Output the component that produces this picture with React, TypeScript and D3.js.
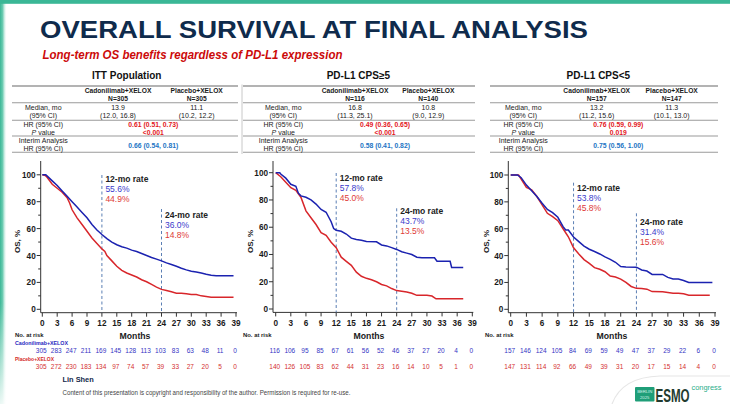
import React from 'react';
import * as d3 from 'd3';

const W = 730, H = 404;
const FONT = "'Liberation Sans', Arial, Helvetica, sans-serif";

// ---------- data ----------
const xTicks = [0, 3, 6, 9, 12, 15, 18, 21, 24, 27, 30, 33, 36, 39];
const yTicks = [0, 20, 40, 60, 80, 100];
const yMinorTicks = [10, 30, 50, 70, 90];

const panelTitles = ['ITT Population', 'PD-L1 CPS≥5', 'PD-L1 CPS<5'];
const armNames = ['Cadonilimab+XELOX', 'Placebo+XELOX'];
const cadN = ['N=305', 'N=116', 'N=157'];
const pboN = ['N=305', 'N=140', 'N=147'];
const cadMedian = ['13.9', '16.8', '13.2'];
const cadCI = ['(12.0, 16.8)', '(11.3, 25.1)', '(11.2, 15.6)'];
const pboMedian = ['11.1', '10.8', '11.3'];
const pboCI = ['(10.2, 12.2)', '(9.0, 12.9)', '(10.1, 13.0)'];
const hrFinal = ['0.61 (0.51, 0.73)', '0.49 (0.36, 0.65)', '0.76 (0.59, 0.99)'];
const pValues = ['<0.001', '<0.001', '0.019'];
const hrInterim = ['0.66 (0.54, 0.81)', '0.58 (0.41, 0.82)', '0.75 (0.56, 1.00)'];
const rate12Cad = ['55.6%', '57.8%', '53.8%'];
const rate12Pbo = ['44.9%', '45.0%', '45.8%'];
const rate24Cad = ['36.0%', '43.7%', '31.4%'];
const rate24Pbo = ['14.8%', '13.5%', '15.6%'];

const ittRiskCad = [305, 283, 247, 211, 169, 145, 128, 113, 103, 83, 63, 48, 11, 0];
const ittRiskPbo = [305, 272, 230, 183, 134, 97, 74, 57, 39, 33, 27, 20, 5, 0];
const hiRiskCad = [116, 106, 95, 85, 67, 61, 56, 52, 46, 37, 27, 20, 4, 0];
const hiRiskPbo = [140, 126, 105, 83, 62, 44, 31, 23, 16, 14, 10, 5, 1, 0];
const loRiskCad = [157, 146, 124, 105, 84, 69, 59, 49, 47, 37, 29, 22, 6, 0];
const loRiskPbo = [147, 131, 114, 92, 66, 49, 39, 31, 20, 17, 15, 14, 4, 0];

type Pt = [number, number];
const ittCad: Pt[] = [[0, 100], [0.7, 100], [1, 99], [2, 95.5], [3, 92], [4, 88], [5, 84], [6, 80], [7, 76], [8, 72], [9, 68], [10, 63], [11, 59], [12, 55.6], [13, 52.5], [14, 50], [15, 48], [16, 46.5], [17, 45.5], [18, 44], [19, 43], [20, 41.5], [21, 40], [22, 38.5], [23, 37.3], [24, 36], [25, 34.5], [26, 33.3], [27, 32], [28, 30.5], [29, 29.3], [30, 28.3], [31, 27.8], [32, 27], [33, 26], [34, 25.3], [35, 25], [38.5, 25]];
const ittPbo: Pt[] = [[0, 100], [0.6, 99.5], [1, 98], [2, 93], [3, 90], [4, 87], [5, 83], [5.5, 79], [6, 74], [7, 68], [8, 63], [9, 58], [10, 53], [11, 49], [12, 44.9], [12.6, 43], [13, 40], [14, 36], [15, 32], [16, 29], [17, 27], [18, 25.5], [19, 24], [20, 22], [21, 20.5], [22, 18.5], [23, 16.5], [24, 14.8], [25, 14], [26, 13], [27, 12], [28, 12], [29, 11.5], [30, 11], [31, 11], [32, 10], [33, 9.5], [34, 9], [38.5, 9]];
const hiCad: Pt[] = [[0, 100], [0.8, 100], [1, 99], [2, 96], [3, 91.5], [4, 90], [4.5, 85], [5, 83], [6, 82], [7, 80], [8, 77], [9, 73], [10, 71], [11, 64], [11.5, 59], [12, 57.8], [13, 57], [14, 55], [15, 52], [16, 51], [17, 50.5], [18, 49.5], [20, 49.3], [21, 47], [22, 46.3], [23, 45], [24, 43.7], [25, 42], [26, 41], [27, 40], [28, 38], [29, 37.6], [31.5, 37.6], [32, 35], [34.6, 35], [34.9, 30.5], [37.2, 30.5]];
const hiPbo: Pt[] = [[0, 100], [1, 97], [2, 93], [3, 89], [4, 87], [5, 82], [6, 72], [7, 67], [8, 62], [9, 56], [10, 54], [11, 49], [12, 45], [13, 38], [14, 35], [15, 32], [16, 27], [17, 24], [18, 22.5], [19, 21.5], [20, 20], [21, 18], [22, 17], [23, 15], [24, 13.5], [25, 13], [26, 12.5], [27, 11.5], [28, 10], [30, 10], [31, 9.5], [31.8, 7.5], [37.2, 7.5]];
const loCad: Pt[] = [[0, 100], [1.3, 100], [2, 98], [3, 92.5], [4, 88.3], [5, 84], [6, 79], [7, 74.4], [8, 72], [9, 68.5], [10, 61.5], [10.5, 59], [11, 59], [12, 53.8], [13, 50.4], [14, 47], [15, 44.7], [16, 43], [17, 41.2], [18, 39], [19, 37.2], [20, 35], [21, 31.8], [22, 31.5], [24, 31.4], [25, 29.3], [26, 28.5], [27, 26], [29, 26], [30, 23.8], [31, 22.5], [32, 22.5], [33, 21.5], [34, 20], [38.5, 20]];
const loPbo: Pt[] = [[0, 100], [1.5, 100], [2, 97], [3, 90.8], [4, 89], [5, 84], [6, 77.7], [7, 71.5], [8, 69], [9, 66], [10, 60], [11, 54], [12, 45.8], [13, 41.2], [14, 37], [15, 34.2], [16, 31], [17, 29.8], [18, 28], [19, 24.8], [20, 24], [21, 22.5], [22, 20], [23, 17], [24, 15.6], [25, 15.5], [26, 15], [27, 13.2], [29, 13], [30, 12.5], [31, 12], [32, 12], [33, 11.5], [34, 10.5], [38, 10.5]];

const curvesCad = [ittCad, hiCad, loCad];
const curvesPbo = [ittPbo, hiPbo, loPbo];
const riskCad = [ittRiskCad, hiRiskCad, loRiskCad];
const riskPbo = [ittRiskPbo, hiRiskPbo, loRiskPbo];

// ---------- layout ----------
const geo = [
  { x0: 42.3, x1: 236, y100: 174.8, y0: 309.3, axisX: 40.7, axisY: 312.7, tblL: 12, tblR: 238, ttl: 126.7, lbl: 43.3, c1: 118, c2: 196.7, hr: 153.3, l12: 175, t12: 179.3, l24: 209, t24: 215, osX: 16.7, riskX: 15, monthsX: 135 },
  { x0: 275.7, x1: 472.3, y100: 172.7, y0: 309, axisX: 273, axisY: 312.4, tblL: 243, tblR: 475, ttl: 358.3, lbl: 283.3, c1: 355, c2: 428.3, hr: 385, l12: 173, t12: 178.3, l24: 208.3, t24: 211, osX: 250, riskX: 243, monthsX: 369 },
  { x0: 510.7, x1: 715, y100: 175, y0: 309.3, axisX: 508.3, axisY: 312.7, tblL: 490, tblR: 718, ttl: 598.3, lbl: 523.3, c1: 596.7, c2: 671.7, hr: 618.3, l12: 182.7, t12: 188.3, l24: 213.3, t24: 221.7, osX: 486, riskX: 485, monthsX: 612 },
];

const BLUE = '#1b22b0';
const RED = '#d8262b';
const TBL_RED = '#e3161b';
const TBL_BLUE = '#2274c4';
const DARK = '#1a1a1a';
const LINE = '#9a9a9a';

function Panel({ i }: { i: number }) {
  const g = geo[i];
  const x = d3.scaleLinear().domain([0, 39]).range([g.x0, g.x1]);
  const y = d3.scaleLinear().domain([0, 100]).range([g.y0, g.y100]);
  const line = d3.line<Pt>().x(d => x(d[0])).y(d => y(d[1])).curve(d3.curveLinear);
  const tf = 7;
  const rows = [86, 102.7, 120.3, 136, 152.3];
  return (
    <g fontFamily={FONT}>
      <text x={g.ttl} y={79.3} textAnchor="middle" fontSize={10} fontWeight="bold" fill="#111">{panelTitles[i]}</text>
      {rows.map((r, k) => (
        <line key={k} x1={g.tblL} x2={g.tblR} y1={r} y2={r} stroke={LINE} strokeWidth={k === 0 ? 1.6 : 1.1} />
      ))}
      <g fontSize={tf} fill={DARK} textAnchor="middle">
        <text x={g.c1} y={93} fontWeight="bold" fontSize={6.7}>{armNames[0]}</text>
        <text x={g.c2} y={93} fontWeight="bold" fontSize={6.7}>{armNames[1]}</text>
        <text x={g.c1} y={100.8} fontWeight="bold" fontSize={6.7}>{cadN[i]}</text>
        <text x={g.c2} y={100.8} fontWeight="bold" fontSize={6.7}>{pboN[i]}</text>
        <text x={g.lbl} y={110.3}>Median, mo</text>
        <text x={g.lbl} y={118.3}>(95% CI)</text>
        <text x={g.c1} y={110.3}>{cadMedian[i]}</text>
        <text x={g.c2} y={110.3}>{pboMedian[i]}</text>
        <text x={g.c1} y={118.3}>{cadCI[i]}</text>
        <text x={g.c2} y={118.3}>{pboCI[i]}</text>
        <text x={g.lbl} y={126.9}>HR (95% CI)</text>
        <text x={g.lbl} y={134.7}><tspan fontStyle="italic">P</tspan> value</text>
        <text x={g.hr} y={126.9} fill={TBL_RED} fontWeight="bold" fontSize={6.8}>{hrFinal[i]}</text>
        <text x={g.hr} y={134.7} fill={TBL_RED} fontWeight="bold" fontSize={6.8}>{pValues[i]}</text>
        <text x={g.lbl} y={142.7}>Interim Analysis</text>
        <text x={g.lbl} y={150.6}>HR (95% CI)</text>
        <text x={g.hr} y={147.8} fill={TBL_BLUE} fontWeight="bold" fontSize={6.8}>{hrInterim[i]}</text>
      </g>
      <line x1={g.axisX} x2={g.axisX} y1={161} y2={g.axisY} stroke="#333" strokeWidth={1} />
      <line x1={g.axisX} x2={g.x1 + 1} y1={g.axisY} y2={g.axisY} stroke="#333" strokeWidth={1} />
      {yTicks.map(t => (
        <g key={'y' + t}>
          <line x1={g.axisX - 4} x2={g.axisX} y1={y(t)} y2={y(t)} stroke="#333" />
          <text x={g.axisX - 5} y={y(t) + 3} textAnchor="end" fontSize={8.2} fontWeight="bold" fill={DARK}>{t}</text>
        </g>
      ))}
      {yMinorTicks.map(t => (
        <line key={'ym' + t} x1={g.axisX - 2.5} x2={g.axisX} y1={y(t)} y2={y(t)} stroke="#333" />
      ))}
      {xTicks.map(t => (
        <g key={'x' + t}>
          <line x1={x(t)} x2={x(t)} y1={g.axisY} y2={g.axisY + 4} stroke="#333" />
          <text x={x(t)} y={326} textAnchor="middle" fontSize={8.2} fontWeight="bold" fill={DARK}>{t}</text>
        </g>
      ))}
      <text transform={`translate(${g.osX + 3},${241.5}) rotate(-90)`} textAnchor="middle" fontSize={8} fontWeight="bold" fill={DARK}>OS, %</text>
      <text x={g.monthsX} y={339} textAnchor="middle" fontSize={8.7} fontWeight="bold" fill={DARK}>Months</text>
      <line x1={x(12)} x2={x(12)} y1={g.l12} y2={g.axisY} stroke="#5b7fb4" strokeWidth={1} strokeDasharray="3,2.5" />
      <line x1={x(24)} x2={x(24)} y1={g.l24} y2={g.axisY} stroke="#5b7fb4" strokeWidth={1} strokeDasharray="3,2.5" />
      <path d={line(curvesPbo[i]) || ''} fill="none" stroke={RED} strokeWidth={1.5} />
      <path d={line(curvesCad[i]) || ''} fill="none" stroke={BLUE} strokeWidth={1.5} />
      <g fontSize={8.5}>
        <text x={x(12) + 3.5} y={g.t12 + 3.1} fontWeight="bold" fill="#222">12-mo rate</text>
        <text x={x(12) + 3.5} y={g.t12 + 13.1} fill="#3a3acb">{rate12Cad[i]}</text>
        <text x={x(12) + 3.5} y={g.t12 + 23.1} fill="#de3a36">{rate12Pbo[i]}</text>
        <text x={x(24) + 3.5} y={g.t24 + 3.1} fontWeight="bold" fill="#222">24-mo rate</text>
        <text x={x(24) + 3.5} y={g.t24 + 13.1} fill="#3a3acb">{rate24Cad[i]}</text>
        <text x={x(24) + 3.5} y={g.t24 + 23.1} fill="#de3a36">{rate24Pbo[i]}</text>
      </g>
      <text x={g.riskX} y={337.3} fontSize={5.9} fontWeight="bold" fill={DARK}>No. at risk</text>
      {riskCad[i].map((v, k) => (
        <text key={'rc' + k} x={x(xTicks[k]) - 1} y={353.2} textAnchor="middle" fontSize={6.5} fill="#3535c4">{v}</text>
      ))}
      {riskPbo[i].map((v, k) => (
        <text key={'rp' + k} x={x(xTicks[k]) - 1} y={369.2} textAnchor="middle" fontSize={6.5} fill="#d43030">{v}</text>
      ))}
    </g>
  );
}

export default function App() {
  return (
    <div style={{ position: 'absolute', left: 0, top: 0 }}>
      <svg width={W} height={H} viewBox={`0 0 ${W} ${H}`} style={{ display: 'block' }}>
        <defs>
          <linearGradient id="leftEdge" x1="0" x2="1" y1="0" y2="0">
            <stop offset="0" stopColor="#3ab796" />
            <stop offset="0.4" stopColor="#6fcdb3" />
            <stop offset="1" stopColor="#ffffff" stopOpacity="0" />
          </linearGradient>
          <linearGradient id="leftFade" x1="0" x2="0" y1="0" y2="1">
            <stop offset="0" stopColor="#fff" stopOpacity="0" />
            <stop offset="0.75" stopColor="#fff" stopOpacity="0" />
            <stop offset="1" stopColor="#fff" stopOpacity="0.9" />
          </linearGradient>
        </defs>
        <rect x={0} y={0} width={W} height={H} fill="#ffffff" />
        <rect x={0} y={0} width={7} height={H} fill="url(#leftEdge)" />
        <rect x={0} y={0} width={7} height={H} fill="url(#leftFade)" />
        <rect x={0} y={0} width={W} height={3.8} fill="#3ab796" />
        <text x={40} y={38.3} fontFamily={FONT} fontSize={24.5} fontWeight="bold" fill="#0f2b4c" textLength={548} lengthAdjust="spacingAndGlyphs">OVERALL SURVIVAL AT FINAL ANALYSIS</text>
        <text x={42.5} y={59.2} fontFamily={FONT} fontSize={12.4} fontWeight="bold" fontStyle="italic" fill="#cc0a0a" textLength={300} lengthAdjust="spacingAndGlyphs">Long-term OS benefits regardless of PD-L1 expression</text>
        <line x1={242} x2={242} y1={84.5} y2={154} stroke="#c8c8c8" strokeWidth={1} />
        {[0, 1, 2].map(i => <Panel key={i} i={i} />)}
        <g fontFamily={FONT} fontWeight="bold" fontSize={5.8}>
          <text x={15} y={345.2} fill="#2828c0" textLength={53} lengthAdjust="spacingAndGlyphs">{armNames[0]}</text>
          <text x={15} y={361.2} fill="#d42a2a" textLength={39} lengthAdjust="spacingAndGlyphs">{armNames[1]}</text>
        </g>
        <text x={62.5} y={382} fontFamily={FONT} fontSize={7.4} fontWeight="bold" fill="#13294a">Lin Shen</text>
        <text x={62.5} y={395} fontFamily={FONT} fontSize={7.4} fill="#444" textLength={288} lengthAdjust="spacingAndGlyphs">Content of this presentation is copyright and responsibility of the author. Permission is required for re-use.</text>
        {/* ESMO logo */}
        <path d="M612,404 Q622,377 660,376 L730,376" fill="none" stroke="#e6e6e6" strokeWidth={1.2} />
        <rect x={635} y={387} width={19.5} height={14.5} rx={1} fill="#1f9e78" />
        <text x={644.7} y={393.3} textAnchor="middle" fontFamily={FONT} fontSize={4.2} fill="#d8f2e9">BERLIN</text>
        <text x={644.7} y={399} textAnchor="middle" fontFamily={FONT} fontSize={4.2} fill="#d8f2e9">2025</text>
        <text transform="translate(655.5,401.5) scale(1,1.6)" fontFamily={FONT} fontSize={11.6} fontWeight="bold" fill="#233b2e">ESMO</text>
        <text x={691.5} y={389.5} fontFamily={FONT} fontSize={7.4} fill="#2aae8a">congress</text>
      </svg>
    </div>
  );
}
